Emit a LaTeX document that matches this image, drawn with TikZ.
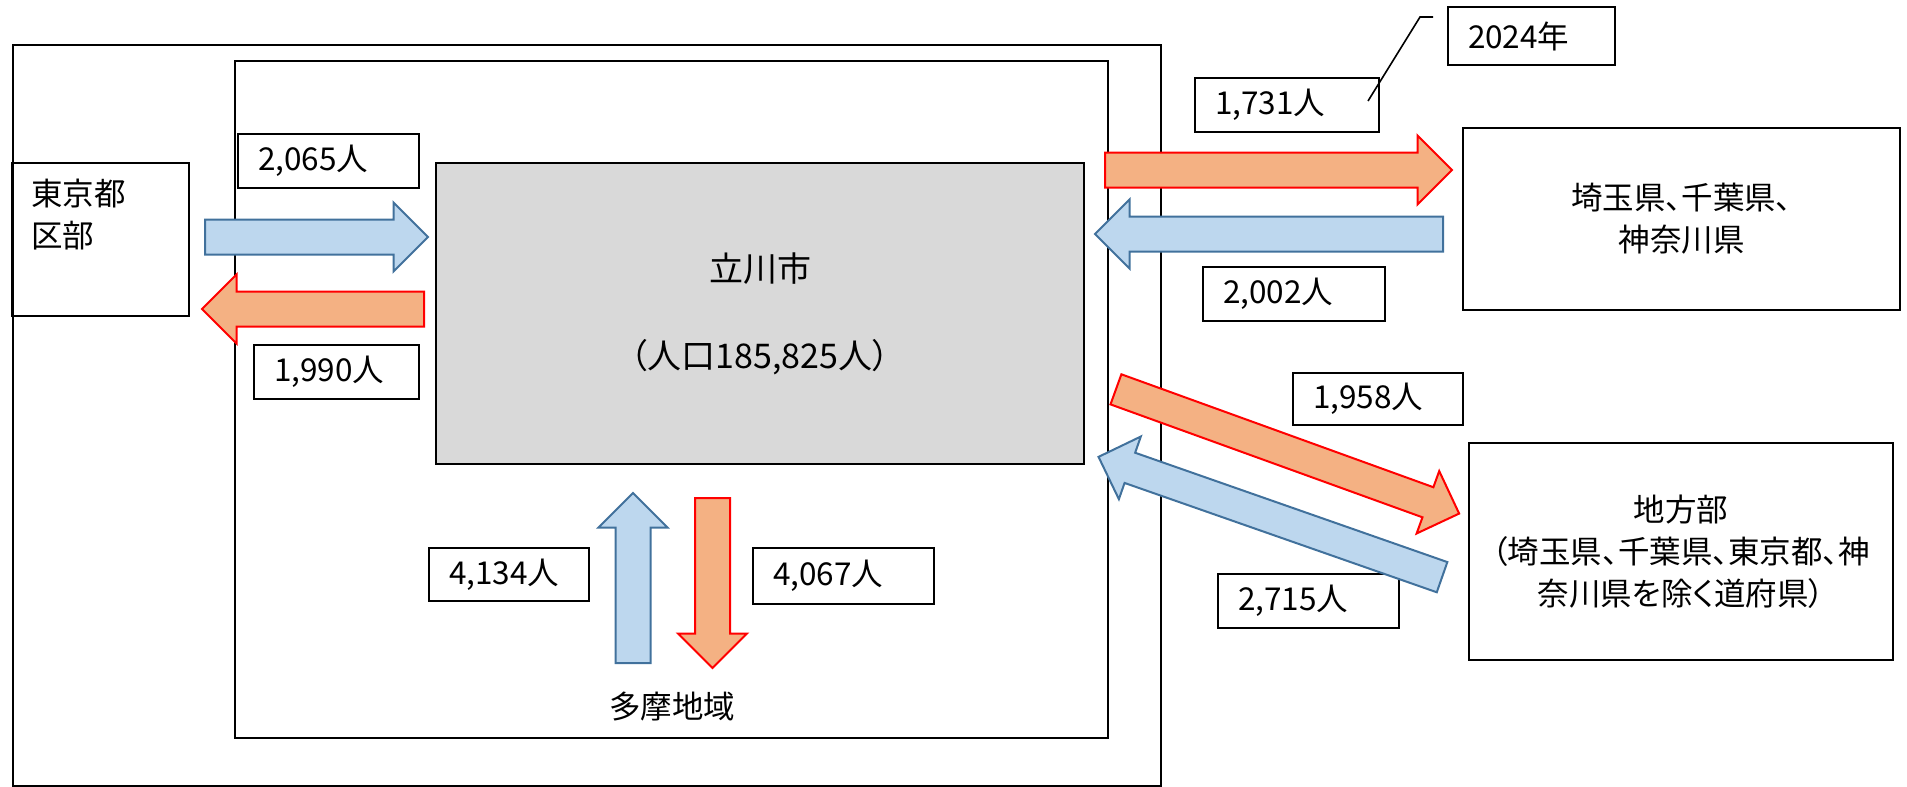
\documentclass[tikz,border=0pt]{standalone}
\usepackage{fontspec}
\setmainfont{Noto Sans CJK JP}[RawFeature=+palt]
\usepackage{tikz}
\usetikzlibrary{shapes.arrows}
\definecolor{inline}{HTML}{41719C}
\definecolor{infill}{HTML}{BDD7EE}
\definecolor{outdraw}{HTML}{FF0000}
\definecolor{outfill}{HTML}{F4B183}
\definecolor{citygray}{HTML}{D9D9D9}
\newcommand\lblfont{\fontsize{15.75pt}{21pt}\selectfont}
\newcommand\cityfont{\fontsize{17pt}{43.5pt}\selectfont}
\tikzset{
  inflow/.style={single arrow, draw=inline, fill=infill, line width=1pt, inner xsep=0pt, anchor=tail, minimum height=#1},
  outflow/.style={single arrow, draw=outdraw, fill=outfill, line width=1pt, inner xsep=0pt, anchor=tail, minimum height=#1},
  flat/.style={inner ysep=8.25pt, single arrow head extend=8.5pt},
  slant/.style={inner ysep=7.5pt, single arrow head extend=8.6pt},
  numbox/.style={draw, line width=1pt, fill=white, anchor=north west, minimum height=27pt, inner xsep=10pt, text width=#1, align=left, font=\lblfont},
  areabox/.style={draw, line width=1pt, align=center, font=\lblfont},
}

\begin{document}
\begin{tikzpicture}[x=0.5pt, y=-0.5pt]
  \useasboundingbox (0,0) rectangle (1907,787);

  % frames
  \draw [line width=1.1pt] (13,45) rectangle (1161,786);
  \draw [line width=1.1pt] (235,61) rectangle (1108,738);

  % areas
  \node [draw, line width=1pt, fill=citygray, minimum width=324pt, minimum height=150.5pt, align=center, font=\cityfont]
    (city) at (760,313.5) {立川市\\（人口185,825人）};
  \node [areabox, minimum width=88.5pt, minimum height=76.5pt,
    label={[anchor=north west, align=left, inner sep=0pt, xshift=10pt, yshift=-8.5pt, font=\lblfont]north west:東京都\\区部}]
    (tokyo) at (100.5,239.5) {};
  \node [areabox, minimum width=218.5pt, minimum height=91pt] (saitama) at (1681.5,219) {埼玉県、千葉県、\\神奈川県};
  \node [areabox, minimum width=212pt, minimum height=108.5pt] (chiho) at (1681,551.5)
    {地方部\\（埼玉県、千葉県、東京都、神\\奈川県を除く道府県）};
  \node [font=\lblfont] (tama) at (672,707) {多摩地域};

  % numbers
  \node [numbox=70.5pt] (n2065) at (237,133) {2,065人};
  \node [numbox=62.5pt] (n1990) at (253,344) {1,990人};
  \node [numbox=72pt] (n1731) at (1194,77) {1,731人};
  \node [numbox=63.5pt, minimum height=29pt] (year) at (1447,6) {2024年};
  \node [numbox=71pt] (n2002) at (1202,266) {2,002人};
  \node [numbox=65pt, minimum height=26pt] (n1958) at (1292,372) {1,958人};
  \node [numbox=70.5pt] (n2715) at (1217,573) {2,715人};
  \node [numbox=60pt, minimum height=26.5pt] (n4134) at (428,547) {4,134人};
  \node [numbox=70.5pt, minimum height=28pt] (n4067) at (752,547) {4,067人};

  % callout
  \coordinate (callfoot) at (1368,101);
  \coordinate (callknee) at (1420,17);
  \coordinate (callend) at (1433,17);
  \draw [line width=0.8pt] (callfoot) -- (callknee) -- (callend);

  % flows
  \node [inflow=111.5pt, flat] (tokin) at (204,237) {};
  \node [outflow=111pt, flat, rotate=180] (tokout) at (425,309) {};
  \node [outflow=173.5pt, flat] (saiout) at (1104,170) {};
  \node [inflow=174pt, flat, rotate=180] (saiin) at (1444,234) {};
  \node [outflow=182.5pt, slant, rotate=-19.9] (chiout) at (1115,389) {};
  \node [inflow=182pt, slant, rotate=160.7] (chiin) at (1443,577.5) {};
  \node [inflow=85pt, flat, rotate=90] (tamain) at (633,664) {};
  \node [outflow=85pt, flat, rotate=-90] (tamaout) at (712.5,497) {};
\end{tikzpicture}
\end{document}
